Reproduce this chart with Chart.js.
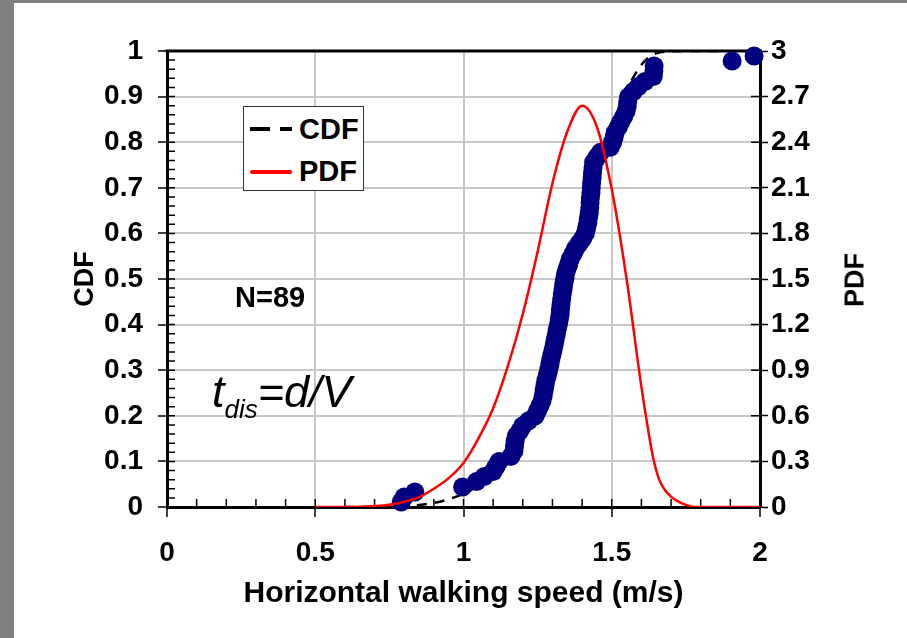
<!DOCTYPE html>
<html>
<head>
<meta charset="utf-8">
<script src="https://cdn.jsdelivr.net/npm/chart.js@4.4.1/dist/chart.umd.min.js"></script>
<style>
  html, body { margin: 0; padding: 0; background: #fff; }
  #wrap { position: relative; width: 907px; height: 638px; overflow: hidden; background: #fff; }
  #chart { position: absolute; left: 0; top: 0; }
  .edge-left { position: absolute; left: 0; top: 0; width: 14px; height: 638px; background: #7f7f7f; }
  .edge-top { position: absolute; left: 0; top: 0; width: 907px; height: 3px; background: #7f7f7f; }
  .note { position: absolute; color: #000; font-family: "Liberation Sans", Arial, sans-serif; line-height: 1; white-space: nowrap; }
  #legend { position: absolute; left: 243px; top: 106px; width: 119px; height: 83px; border: 1px solid #333; background: #fff; }
  #legend .mark { position: absolute; height: 4px; }
  #legend .lbl { position: absolute; left: 55px; font: bold 29px "Liberation Sans", Arial, sans-serif; line-height: 29px; color: #000; }
  #pdfTitle { position: absolute; left: 855px; top: 280px; transform: translate(-50%, -50%) rotate(-90deg);
              font: bold 27px "Liberation Sans", Arial, sans-serif; color: #000; white-space: nowrap; }
</style>
</head>
<body>
<div id="wrap">
  <canvas id="chart" width="907" height="638"></canvas>
  <div class="edge-left"></div>
  <div class="edge-top"></div>

  <div id="legend">
    <div class="mark" style="left:6px; top:20px; width:20px; background:#000;"></div>
    <div class="mark" style="left:36px; top:20px; width:12px; background:#000;"></div>
    <div class="lbl" style="top:8px;">CDF</div>
    <div class="mark" style="left:6px; top:63px; width:42px; background:#ff0000; border-radius:2px;"></div>
    <div class="lbl" style="top:50px;">PDF</div>
  </div>

  <div class="note" style="left:235px; top:283px; font-size:29px; font-weight:bold;">N=89</div>
  <div class="note" style="left:212px; top:369px; font-size:45px; font-style:italic;">t<span style="font-size:26px; vertical-align:-11px;">dis</span>=d/V</div>

  <div id="pdfTitle">PDF</div>
</div>

<script>
// measured walking speeds (m/s), sorted, N = 89
const speeds = [0.790, 0.800, 0.836, 0.997, 1.044, 1.070, 1.100, 1.110, 1.120, 1.160,
  1.170, 1.172, 1.174, 1.178, 1.190, 1.200, 1.220, 1.242, 1.250, 1.258,
  1.265, 1.269, 1.272, 1.275, 1.278, 1.283, 1.287, 1.291, 1.294, 1.298,
  1.302, 1.306, 1.309, 1.313, 1.316, 1.320, 1.323, 1.326, 1.327, 1.329,
  1.331, 1.333, 1.336, 1.338, 1.341, 1.344, 1.349, 1.355, 1.360, 1.370,
  1.378, 1.390, 1.402, 1.411, 1.415, 1.419, 1.421, 1.424, 1.426, 1.427,
  1.428, 1.430, 1.431, 1.432, 1.434, 1.435, 1.437, 1.439, 1.450, 1.462,
  1.495, 1.503, 1.508, 1.512, 1.522, 1.530, 1.540, 1.548, 1.552, 1.554,
  1.557, 1.573, 1.590, 1.612, 1.640, 1.642, 1.643, 1.906, 1.980];
// empirical CDF of the points
const cdfPoints = [0.011, 0.022, 0.033, 0.044, 0.056, 0.067, 0.078, 0.089, 0.100, 0.111,
  0.122, 0.133, 0.144, 0.156, 0.167, 0.178, 0.189, 0.200, 0.211, 0.222,
  0.233, 0.244, 0.256, 0.267, 0.278, 0.289, 0.300, 0.311, 0.322, 0.333,
  0.344, 0.356, 0.367, 0.378, 0.389, 0.400, 0.411, 0.422, 0.433, 0.444,
  0.456, 0.467, 0.478, 0.489, 0.500, 0.511, 0.522, 0.533, 0.544, 0.556,
  0.567, 0.578, 0.589, 0.600, 0.611, 0.622, 0.633, 0.644, 0.656, 0.667,
  0.678, 0.689, 0.700, 0.711, 0.722, 0.733, 0.744, 0.756, 0.767, 0.778,
  0.789, 0.800, 0.811, 0.822, 0.833, 0.844, 0.856, 0.867, 0.878, 0.889,
  0.900, 0.911, 0.922, 0.933, 0.944, 0.956, 0.967, 0.978, 0.989];

// fitted CDF curve (dashed)
const fitCdfX = [0.6, 0.7, 0.75, 0.8, 0.85, 0.9, 0.95, 1.0, 1.05, 1.1, 1.15, 1.2, 1.25,
  1.3, 1.35, 1.4, 1.45, 1.5, 1.55, 1.6, 1.65, 1.7, 1.75, 2.0];
const fitCdfY = [0, 0.0002, 0.0007, 0.002, 0.0045, 0.009, 0.017, 0.029, 0.047, 0.074, 0.113, 0.167, 0.241,
  0.336, 0.451, 0.579, 0.708, 0.823, 0.912, 0.970, 0.995, 0.999, 1.0, 1.0];

// fitted PDF curve (red)
const pdfX = [0.5, 0.6, 0.65, 0.7, 0.75, 0.8, 0.85, 0.9, 0.95, 1.0, 1.05, 1.1, 1.15, 1.2,
  1.25, 1.3, 1.35, 1.4, 1.45, 1.5, 1.55, 1.6, 1.62, 1.64, 1.66, 1.68, 1.7, 1.72, 1.75, 1.78, 1.9, 2.0];
const pdfY = [0, 0, 0.002, 0.006, 0.015, 0.035, 0.065, 0.12, 0.19, 0.29, 0.45, 0.65, 0.93, 1.27,
  1.68, 2.13, 2.47, 2.64, 2.50, 2.09, 1.50, 0.79, 0.54, 0.32, 0.18, 0.11, 0.068, 0.04, 0.014, 0, 0, 0];

const xTickLabels = ['0', '0.5', '1', '1.5', '2'];
const cdfTickLabels = ['0', '0.1', '0.2', '0.3', '0.4', '0.5', '0.6', '0.7', '0.8', '0.9', '1'];
const pdfTickLabels = ['0', '0.3', '0.6', '0.9', '1.2', '1.5', '1.8', '2.1', '2.4', '2.7', '3'];

Chart.defaults.font.family = '"Liberation Sans", Arial, sans-serif';
Chart.defaults.color = '#000';

const GRID = '#c8c8c8';

// top frame line plus the little inward ticks Excel draws
const frameTicks = {
  id: 'frameTicks',
  beforeDatasetsDraw(chart) {
    const { ctx, chartArea: a, scales } = chart;
    ctx.save();
    ctx.strokeStyle = '#000';
    ctx.lineWidth = 3;
    ctx.beginPath();
    ctx.moveTo(a.left - 1.5, a.top);
    ctx.lineTo(a.right + 1.5, a.top);
    ctx.stroke();

    ctx.lineWidth = 1.5;
    ctx.beginPath();
    for (let i = 1; i < 50; i++) {
      const y = scales.y.getPixelForValue(i * 0.02);
      ctx.moveTo(a.left, y);
      ctx.lineTo(a.left + 8, y);
    }
    for (let i = 1; i < 20; i++) {
      const x = scales.x.getPixelForValue(i * 0.1);
      ctx.moveTo(x, a.bottom);
      ctx.lineTo(x, a.bottom - 8);
    }
    scales.y2.ticks.forEach(t => {
      const y = scales.y2.getPixelForValue(t.value);
      ctx.moveTo(a.right, y);
      ctx.lineTo(a.right - 9, y);
    });
    ctx.stroke();
    ctx.restore();
  }
};

new Chart(document.getElementById('chart'), {
  type: 'scatter',
  data: {
    datasets: [
      {
        label: 'PDF',
        data: pdfX.map((x, i) => ({ x: x, y: pdfY[i] })),
        yAxisID: 'y2',
        showLine: true,
        borderColor: '#ff0000',
        borderWidth: 2.5,
        pointRadius: 0,
        cubicInterpolationMode: 'monotone'
      },
      {
        label: 'Data',
        data: speeds.map((x, i) => ({ x: x, y: cdfPoints[i] })),
        yAxisID: 'y',
        backgroundColor: '#000080',
        borderColor: '#000080',
        borderWidth: 0,
        pointRadius: 9.5,
        clip: false
      },
      {
        label: 'CDF',
        data: fitCdfX.map((x, i) => ({ x: x, y: fitCdfY[i] })),
        yAxisID: 'y',
        showLine: true,
        borderColor: '#000',
        borderWidth: 2.5,
        borderDash: [10, 8],
        pointRadius: 0,
        cubicInterpolationMode: 'monotone'
      }
    ]
  },
  options: {
    responsive: false,
    animation: false,
    layout: { padding: { top: 51, left: 0, right: 0, bottom: 0 } },
    plugins: { legend: { display: false }, tooltip: { enabled: false } },
    scales: {
      x: {
        type: 'linear', position: 'bottom', min: 0, max: 2,
        ticks: { count: 5, callback: (v, i) => xTickLabels[i], font: { size: 28, weight: 'bold' }, padding: 19, maxRotation: 0, autoSkip: false },
        grid: {
          color: c => (c.index === 0 || c.index === 4) ? 'rgba(0,0,0,0)' : GRID,
          lineWidth: 2, tickColor: '#000', tickLength: 10, tickWidth: 1.5
        },
        border: { color: '#000', width: 3 },
        title: { display: true, text: 'Horizontal walking speed (m/s)', font: { size: 30, weight: 'bold' }, padding: { top: 0, bottom: 26 } },
        afterFit: s => { s.height = 131; }
      },
      y: {
        type: 'linear', position: 'left', min: 0, max: 1,
        ticks: { count: 11, callback: (v, i) => cdfTickLabels[i], font: { size: 28, weight: 'bold' }, padding: 15 },
        grid: {
          color: c => (c.index === 0 || c.index === 10) ? 'rgba(0,0,0,0)' : GRID,
          lineWidth: 2, tickColor: '#000', tickLength: 9, tickWidth: 1.5
        },
        border: { color: '#000', width: 3 },
        title: { display: true, text: 'CDF', font: { size: 27, weight: 'bold' }, padding: { top: 69, bottom: 0 } },
        afterFit: s => { s.width = 167; }
      },
      y2: {
        type: 'linear', position: 'right', min: 0, max: 3,
        ticks: { count: 11, callback: (v, i) => pdfTickLabels[i], font: { size: 28, weight: 'bold' }, padding: 3 },
        grid: { drawOnChartArea: false, tickColor: '#000', tickLength: 8, tickWidth: 1.5 },
        border: { color: '#000', width: 3 },
        afterFit: s => { s.width = 147; }
      }
    }
  },
  plugins: [frameTicks]
});
</script>
</body>
</html>
